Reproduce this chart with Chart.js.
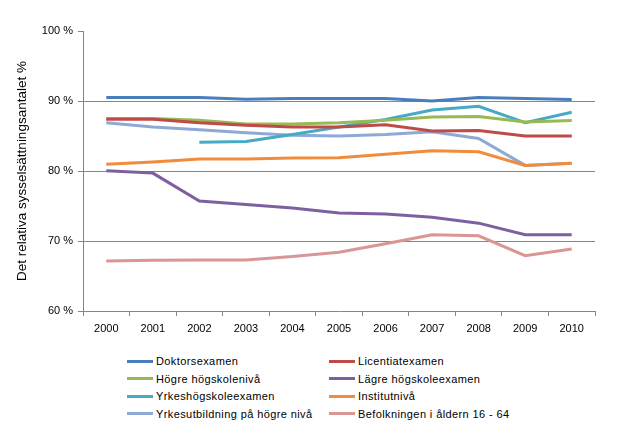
<!DOCTYPE html>
<html>
<head>
<meta charset="utf-8">
<script src="https://cdn.jsdelivr.net/npm/chart.js@4/dist/chart.umd.min.js"></script>
<style>
  html,body{margin:0;padding:0;background:#fff;}
  #wrap{position:relative;width:625px;height:434px;font-family:"Liberation Sans",Arial,sans-serif;}
  #chart{position:absolute;left:0;top:0;}
  .leg{position:absolute;font-size:11px;color:#000;letter-spacing:0.4px;line-height:13px;white-space:nowrap;}
  .leg i{display:inline-block;width:26px;height:3px;vertical-align:middle;margin-right:3px;position:relative;top:-1px;}
</style>
</head>
<body>
<div id="wrap">
  <canvas id="chart" width="625" height="345"></canvas>
  <div id="legend"></div>
</div>
<script>
'use strict';

const years = ['2000','2001','2002','2003','2004','2005','2006','2007','2008','2009','2010'];
const yTicks = [60,70,80,90,100];

const doktor      = [90.5,90.5,90.5,90.25,90.35,90.35,90.35,90.0,90.5,90.35,90.2];
const licentiat   = [87.4,87.4,86.9,86.55,86.3,86.3,86.6,85.7,85.8,85.0,85.0];
const hogre       = [87.5,87.5,87.25,86.7,86.7,86.9,87.25,87.7,87.8,87.0,87.2];
const lagre       = [80.05,79.7,75.7,75.2,74.7,74.0,73.85,73.4,72.55,70.9,70.9];
const yrkeshogsk  = [null,null,84.1,84.2,85.2,86.3,87.35,88.7,89.25,86.9,88.4];
const institut    = [80.95,81.3,81.7,81.7,81.85,81.9,82.4,82.9,82.75,80.8,81.1];
const yrkesutb    = [86.9,86.3,85.9,85.45,85.1,85.0,85.2,85.6,84.65,80.8,81.1];
const befolkning  = [67.15,67.25,67.3,67.3,67.8,68.4,69.6,70.9,70.75,67.9,68.85];

const series = [
  {label:'Doktorsexamen', data:doktor, color:'#4A7EBB'},
  {label:'Licentiatexamen', data:licentiat, color:'#BE4B48'},
  {label:'Högre högskolenivå', data:hogre, color:'#98B954'},
  {label:'Lägre högskoleexamen', data:lagre, color:'#7D60A0'},
  {label:'Yrkeshögskoleexamen', data:yrkeshogsk, color:'#46AAC5'},
  {label:'Institutnivå', data:institut, color:'#F08C3C'},
  {label:'Yrkesutbildning på högre nivå', data:yrkesutb, color:'#8EA9D6'},
  {label:'Befolkningen i åldern 16 - 64', data:befolkning, color:'#D99694'}
];

const $ = id => document.getElementById(id);
const FONT = {family:'"Liberation Sans", Arial, sans-serif', size:11};

// legend: two columns, four rows
let html='';
series.forEach((s,i)=>{
  const col=i%2, row=Math.floor(i/2);
  const left=col?329:127, top=355+row*17.5;
  html+=`<div class="leg" style="left:${left}px;top:${top}px"><i style="background:${s.color}"></i>${s.label}</div>`;
});
$('legend').innerHTML=html;

new Chart($('chart'),{
  type:'line',
  data:{labels:years,datasets:series.map(s=>({label:s.label,data:s.data,borderColor:s.color,backgroundColor:s.color,borderWidth:3,pointRadius:0,tension:0,spanGaps:false}))},
  options:{
    responsive:false,animation:false,
    layout:{padding:{left:0,right:30,top:31,bottom:0}},
    plugins:{legend:{display:false},tooltip:{enabled:false}},
    scales:{
      x:{
        offset:true,
        grid:{display:true,offset:true,drawOnChartArea:false,drawTicks:true,tickLength:5,color:'#868686'},
        border:{color:'#868686',width:1},
        ticks:{color:'#000',font:FONT,padding:6,maxRotation:0},
        afterFit:s=>{s.height=345-311;}
      },
      y:{
        min:60,max:100,
        afterBuildTicks:s=>{s.ticks=yTicks.map(v=>({value:v}));},
        grid:{color:c=>(c.tick&&(c.tick.value===100||c.tick.value===60))?'rgba(0,0,0,0)':'#868686',tickColor:'#868686',tickLength:5,lineWidth:1},
        border:{color:'#868686',width:1},
        ticks:{color:'#000',font:FONT,padding:5,callback:v=>v+' %'},
        title:{display:true,text:'Det relativa sysselsättningsantalet %',color:'#000',font:{family:FONT.family,size:13.5},padding:{top:14,bottom:0}},
        afterFit:s=>{s.width=83;}
      }
    }
  }
});
</script>
</body>
</html>
